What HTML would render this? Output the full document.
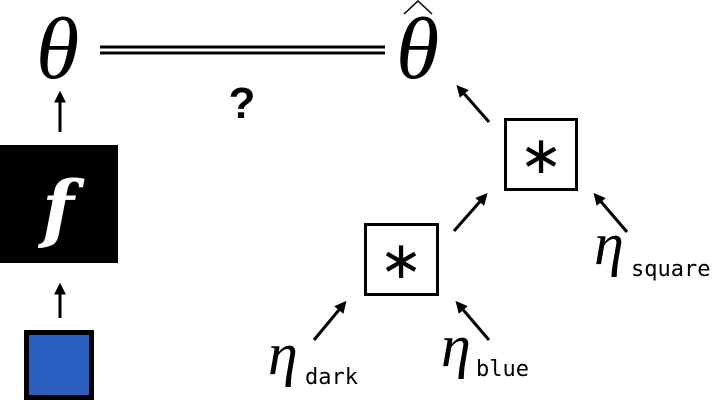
<!DOCTYPE html>
<html><head><meta charset="utf-8"><style>
html,body{margin:0;padding:0;background:#fff;}
svg{display:block;}
.m{font-family:"Liberation Serif","DejaVu Serif",serif;font-style:italic;}
.t{font-family:"DejaVu Sans Mono","Liberation Mono",monospace;}
</style></head><body>
<svg width="719" height="403" viewBox="0 0 719 403">
<defs><marker id="ah" markerWidth="4" markerHeight="4" refX="2.2" refY="2" orient="auto" markerUnits="strokeWidth"><path d="M0,0 L4,2 L0,4 z" fill="#000"/></marker></defs>
<text class="m" x="36" y="78" font-size="88">θ</text>
<g>
<line x1="100" y1="47" x2="385" y2="47" stroke="#000" stroke-width="3"/>
<line x1="100" y1="53" x2="385" y2="53" stroke="#000" stroke-width="3"/>
</g>
<text x="242" y="118" font-size="44" font-weight="bold" text-anchor="middle" font-family="Liberation Sans,sans-serif">?</text>
<text class="m" x="396" y="78" font-size="88">θ</text>
<path d="M404,14 L418,1 L432,14" fill="none" stroke="#000" stroke-width="1.5"/>
<line x1="60" y1="132" x2="60" y2="96" stroke="#000" stroke-width="3" marker-end="url(#ah)"/>
<rect x="0" y="145" width="118" height="118" fill="#000"/>
<text x="58" y="234" font-size="74" font-weight="bold" font-style="italic" fill="#fff" text-anchor="middle" font-family="DejaVu Serif,Liberation Serif,serif">f</text>
<line x1="60" y1="318" x2="60" y2="288" stroke="#000" stroke-width="3" marker-end="url(#ah)"/>
<rect x="26.5" y="332.5" width="65" height="65" fill="#2a5fc0" stroke="#000" stroke-width="5"/>
<rect x="505.5" y="119.5" width="71" height="70" fill="#fff" stroke="#000" stroke-width="3"/>
<text x="541" y="173" font-size="52" text-anchor="middle" font-family="Liberation Serif,serif">∗</text>
<rect x="365.5" y="224.5" width="72" height="70" fill="#fff" stroke="#000" stroke-width="3"/>
<text x="401" y="278" font-size="52" text-anchor="middle" font-family="Liberation Serif,serif">∗</text>
<g stroke="#000" stroke-width="3" marker-end="url(#ah)">
<line x1="489" y1="122" x2="460" y2="89"/>
<line x1="454" y1="231" x2="484" y2="197"/>
<line x1="627" y1="232" x2="597" y2="197"/>
<line x1="314" y1="340" x2="343" y2="305"/>
<line x1="489" y1="340" x2="459" y2="305"/>
</g>
<g><text class="m" x="268" y="374" font-size="60">η</text><text class="t" x="305" y="384" font-size="22">dark</text></g>
<g><text class="m" x="441" y="366" font-size="60">η</text><text class="t" x="476" y="376" font-size="22">blue</text></g>
<g><text class="m" x="594" y="264" font-size="60">η</text><text class="t" x="631" y="276" font-size="22">square</text></g>
</svg>
</body></html>
